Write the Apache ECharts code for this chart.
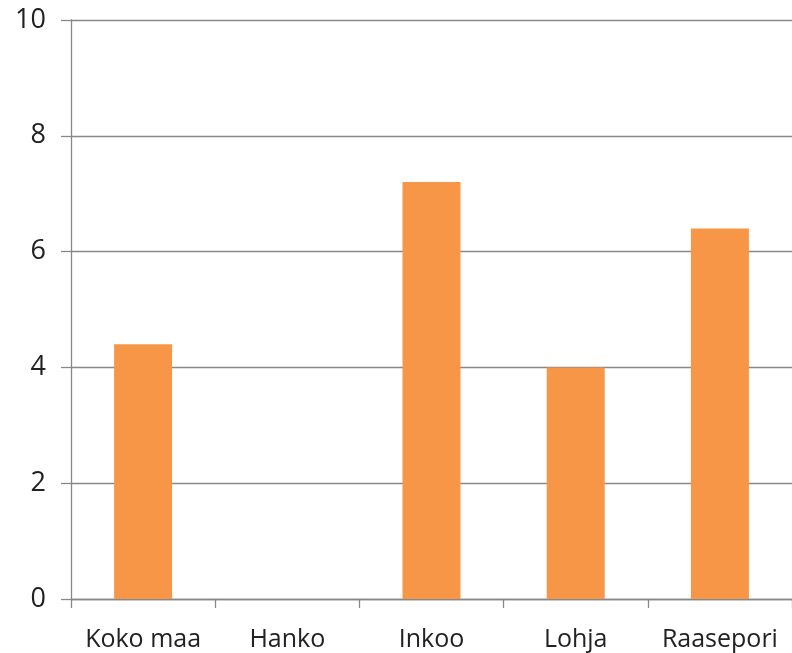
<!DOCTYPE html>
<html><head><meta charset="utf-8">
<script src="https://cdn.jsdelivr.net/npm/echarts@6/dist/echarts.min.js"></script>
<style>html,body{margin:0;padding:0;background:#fff}#c{width:792px;height:653px}</style>
</head><body><div id="c"></div>
<script>
const categories = ['Koko maa', 'Hanko', 'Inkoo', 'Lohja', 'Raasepori'];
const values = [4.4, 0, 7.2, 4.0, 6.4];
const yTicks = [0, 2, 4, 6, 8, 10];
const chart = echarts.init(document.getElementById('c'));
const lineColor = '#888888';
const font = '"Open Sans", sans-serif';
chart.setOption({
  animation: false,
  grid: {left: 71, top: 20, width: 723, height: 579, containLabel: false},
  xAxis: {
    type: 'category', data: categories,
    axisLine: {lineStyle: {color: lineColor, width: 1.3}},
    axisTick: {show: true, length: 9, alignWithLabel: false, lineStyle: {color: lineColor, width: 1.3}},
    axisLabel: {color: '#222', fontSize: 25, fontFamily: font, margin: 28, interval: 0}
  },
  yAxis: {
    type: 'value', min: yTicks[0], max: yTicks[yTicks.length - 1], interval: 2,
    axisLine: {show: true, lineStyle: {color: lineColor, width: 1.3}},
    axisTick: {show: true, length: 10, lineStyle: {color: lineColor, width: 1.3}},
    splitLine: {show: true, lineStyle: {color: lineColor, width: 1.3}},
    axisLabel: {color: '#222', fontSize: 27, fontFamily: font, margin: 25}
  },
  series: [{
    type: 'bar', data: values, barWidth: 58,
    itemStyle: {color: '#F79646'}
  }]
});
</script></body></html>
